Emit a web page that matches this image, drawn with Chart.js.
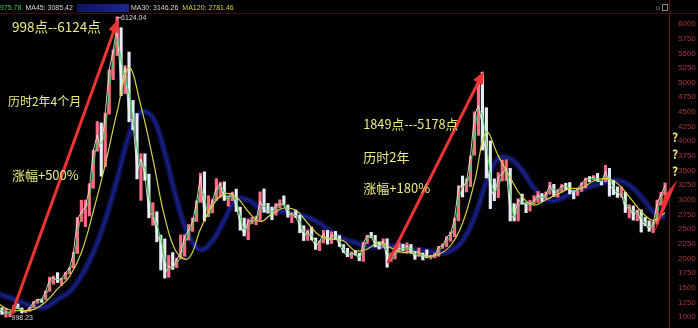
<!DOCTYPE html>
<html><head><meta charset="utf-8">
<script src="https://cdn.jsdelivr.net/npm/chart.js@4/dist/chart.umd.min.js"></script>
<style>html,body{margin:0;padding:0;background:#000;overflow:hidden}#wrap{width:698px;height:328px}</style>
</head><body><div id="wrap"><canvas id="c" width="698" height="328"></canvas></div>
<script>
// ---- data (monthly, Apr 2005 .. Apr 2019) ----
const firstYear = 2005, firstMonth = 4;
const high = [1282,1159,1147,1085,1201,1223,1156,1105,1167,
1263,1305,1307,1445,1682,1700,1757,1660,1760,1842,2108,2698,
2994,2996,3275,3848,4335,4312,4479,5218,5559,6124,5937,5290,
5522,4696,4472,3786,3786,3439,2952,2796,2397,2333,2051,2100,
2005,2402,2403,2579,2688,2982,3454,3478,3068,3003,3361,3297,
3306,3069,3132,3181,2874,2688,2673,2701,2721,3136,3186,2939,
2877,2936,3000,3067,2912,2780,2826,2736,2557,2485,2536,2348,
2301,2478,2478,2453,2461,2389,2235,2172,2112,2134,2089,2276,
2398,2444,2393,2282,2334,2335,2092,2198,2270,2243,2266,2238,
2111,2177,2092,2146,2054,2087,2206,2248,2369,2450,2684,3239,
3406,3360,3748,4500,4986,5178,4572,4006,3357,3464,3678,3684,
3538,2934,3019,3098,2953,2993,3071,3141,3107,3133,3301,3264,
3174,3260,3283,3295,3159,3198,3293,3371,3397,3414,3451,3320,
3587,3538,3334,3220,3219,3129,2915,2896,2827,2830,2703,2642,
2631,2997,3129,3288];
const low = [1135,1043,998,1004,1080,1140,1067,1074,1096,
1161,1235,1250,1298,1437,1560,1589,1541,1645,1735,1836,2082,
2630,2541,2723,3197,3830,3404,3563,4462,5049,5462,4778,4812,
4330,4195,3357,2990,3333,2693,2566,2284,1802,1664,1678,1814,
1844,1990,2037,2312,2461,2630,2955,2639,2712,2779,2993,3039,
2990,2890,2985,2802,2481,2383,2319,2590,2573,2646,2787,2774,
2661,2737,2861,2908,2702,2610,2699,2437,2304,2307,2313,2152,
2132,2263,2242,2252,2325,2203,2100,2030,1999,2055,1959,1949,
2253,2353,2196,2161,2180,1849,1951,1988,2101,2125,2086,2085,
1984,2034,1974,2011,1991,2010,2035,2170,2198,2292,2369,2640,
3049,3134,3225,3760,4100,3848,3373,2850,2984,3039,3322,3327,
2638,2638,2639,2925,2781,2807,2930,2953,2969,3008,3096,3056,
3044,3128,3172,3101,3016,3073,3142,3203,3310,3339,3315,3254,
3306,3062,3087,3041,3043,2782,2691,2653,2644,2449,2556,2462,
2440,2585,2909,3078];
const close = [1159,1060,1080,1083,1162,1155,1092,1099,1161,
1258,1299,1298,1440,1641,1672,1612,1658,1752,1837,2099,2675,
2786,2881,3183,3841,4109,3820,4471,5218,5552,5954,4871,5261,
4383,4348,3472,3693,3433,2736,2775,2397,2293,1728,1871,1820,
1990,2082,2373,2477,2632,2959,3412,2667,2779,2996,3195,3277,
2989,3051,3109,2870,2592,2398,2637,2638,2655,2979,2820,2808,
2790,2905,2928,2911,2743,2762,2701,2567,2359,2468,2333,2199,
2292,2428,2262,2396,2372,2225,2103,2047,2086,2069,1980,2269,
2385,2365,2236,2177,2300,1979,1993,2098,2174,2141,2220,2116,
2033,2056,2033,2026,2039,2048,2201,2217,2364,2420,2683,3235,
3210,3310,3748,4441,4612,4277,3664,3206,3053,3383,3445,3539,
2738,2688,3004,2938,2917,2930,2979,3085,3005,3100,3250,3104,
3159,3242,3223,3155,3117,3192,3273,3361,3349,3393,3317,3307,
3481,3259,3169,3082,3095,2847,2876,2725,2821,2603,2588,2494,
2585,2941,3091,3246];
// short moving average (green), monthly reading
const ma30 = [1200,1110,1070,1080,1120,1160,1120,1095,1130,
1210,1280,1300,1370,1540,1660,1640,1630,1700,1790,1960,2380,
2730,2830,3030,3500,3980,3960,4150,4850,5380,5750,5400,5060,
4820,4360,3900,3580,3560,3080,2750,2580,2340,2010,1800,1850,
1900,2040,2230,2430,2550,2800,3180,3040,2720,2890,3100,3240,
3130,3020,3080,2990,2730,2500,2520,2640,2650,2820,2900,2810,
2800,2850,2920,2920,2830,2750,2730,2630,2460,2410,2400,2270,
2250,2360,2340,2330,2380,2300,2160,2080,2070,2080,2020,2120,
2330,2375,2300,2210,2240,2140,1990,2040,2140,2160,2180,2170,
2070,2045,2045,2030,2032,2044,2120,2210,2290,2390,2550,2960,
3220,3260,3530,4100,4530,4450,3970,3430,3130,3220,3410,3490,
3140,2710,2850,2970,2930,2925,2955,3030,3045,3050,3175,3180,
3130,3200,3230,3190,3135,3155,3230,3315,3355,3370,3355,3310,
3390,3370,3210,3125,3090,2970,2860,2800,2770,2710,2595,2540,
2540,2760,3020,3170];
// long moving averages, read every 3 months
const maStep = 3;
const ma120 = [1230,1120,1110,1130,1260,1480,1690,2100,2800,3600,4500,5250,4600,3700,2700,2100,2000,2500,2900,3100,3050,2800,2630,2760,2860,2820,2600,2390,2330,2300,2130,2160,2280,2180,2100,2120,2040,2070,2220,2600,3300,4150,3750,3380,3050,2910,3000,3100,3190,3200,3320,3360,3280,3050,2800,2650,2780];
const ma250 = [1400,1330,1250,1180,1170,1300,1430,1700,2100,2650,3350,4100,4500,4400,3800,3000,2400,2150,2300,2650,3000,3000,2850,2800,2800,2760,2700,2600,2450,2330,2270,2200,2200,2220,2200,2150,2130,2090,2130,2300,2700,3300,3700,3700,3500,3200,3000,3000,3100,3180,3240,3300,3330,3250,3050,2800,2690];
const yTicks = [1000,1250,1500,1750,2000,2250,2500,2750,3000,3250,3500,3750,4000,4250,4500,4750,5000,5250,5500,5750,6000];
const headerItems = [
  {t:'975.78', c:'#33c84a'}, {t:'MA45: 3085.42', c:'#d8d8d8'},
  {t:'MA30: 3146.26', c:'#d8d8d8'}, {t:'MA120: 2781.46', c:'#d8cf48'}];

// ---- build ----
const months = close.map((_, i) => {
  const m = firstMonth - 1 + i; return (firstYear + Math.floor(m / 12)) + '-' + String(m % 12 + 1).padStart(2, '0');
});
const barData = close.map((c, i) => ({x: i + 0.5, y: [low[i], high[i]]}));
const closeData = close.map((c, i) => ({x: i + 0.5, y: c}));
const m30 = ma30.map((v, i) => ({x: i + 0.5, y: v}));
const m120 = ma120.map((v, i) => ({x: i * maStep + 0.5, y: v}));
const m250 = ma250.map((v, i) => ({x: i * maStep + 0.5, y: v}));
const barColors = close.map((c, i) => (i > 0 && c < close[i - 1]) ? '#e6ecf4' : '#ff6a86');

const CJK = '"Noto Sans CJK SC","Noto Sans",sans-serif';
const notes = [
  {t:'998点--6124点', x:4.0, y:5950, s:13.5},
  {t:'历时2年4个月', x:3.0, y:4686, s:12},
  {t:'涨幅+500%', x:4.0, y:3423, s:13},
  {t:'1849点---5178点', x:92.5, y:4294, s:12.7},
  {t:'历时2年', x:92.5, y:3730, s:13},
  {t:'涨幅+180%', x:92.5, y:3201, s:13}];

function arrow(ctx, x1, y1, x2, y2, w, head, color) {
  const a = Math.atan2(y2 - y1, x2 - x1);
  const bx = x2 - head * Math.cos(a), by = y2 - head * Math.sin(a);
  ctx.strokeStyle = color; ctx.lineWidth = w; ctx.lineCap = 'round';
  ctx.beginPath(); ctx.moveTo(x1, y1); ctx.lineTo(bx, by); ctx.stroke();
  ctx.fillStyle = color; ctx.beginPath(); ctx.moveTo(x2, y2);
  const hw = head * 0.42;
  ctx.lineTo(bx + hw * Math.sin(a), by - hw * Math.cos(a));
  ctx.lineTo(bx - hw * Math.sin(a), by + hw * Math.cos(a));
  ctx.closePath(); ctx.fill();
}

const bg = {id:'bg', beforeDraw(ch){const c=ch.ctx; c.save(); c.fillStyle='#000'; c.fillRect(0,0,ch.width,ch.height); c.restore();}};
const deco = {id:'deco', afterDraw(ch){
  const c = ch.ctx, xs = ch.scales.x, ys = ch.scales.y, ca = ch.chartArea;
  const X = v => xs.getPixelForValue(v), Y = v => ys.getPixelForValue(v);
  c.save();
  // header strip
  c.strokeStyle = '#3c0c12'; c.lineWidth = 1;
  c.beginPath(); c.moveTo(0, 13.5); c.lineTo(ch.width, 13.5); c.stroke();
  c.font = '7px "Liberation Sans",sans-serif'; c.textBaseline = 'middle';
  let hx = 0;
  headerItems.forEach((h, i) => {
    c.fillStyle = h.c; c.fillText(h.t, hx, 8); hx += c.measureText(h.t).width + 4;
    if (i === 1) { const g = c.createLinearGradient(hx, 0, hx + 52, 0); g.addColorStop(0, '#0b1460'); g.addColorStop(1, '#1a2890'); c.fillStyle = g; c.fillRect(hx, 4, 52, 8); hx += 54; }
  });
  c.fillStyle = '#888'; c.fillText('o', 656, 8); c.strokeStyle = '#888'; c.strokeRect(662.5, 4.5, 5, 6);
  // arrows
  arrow(c, X(4.05), Y(1068), X(30.75), Y(6080), 3, 13, '#ec3434');
  arrow(c, X(98.8), Y(1939), X(122.9), Y(5200), 3, 13, '#ec3434');
  c.fillStyle = '#ec3434'; c.beginPath();
  c.moveTo(X(165.8), Y(2433)); c.lineTo(X(168.3), Y(3065)); c.lineTo(X(171.6), Y(3338)); c.lineTo(X(169.5), Y(3000)); c.closePath(); c.fill();
  // notes
  c.textBaseline = 'middle'; c.fillStyle = '#ecec82';
  notes.forEach(n => { c.font = n.s + 'px ' + CJK; c.fillText(n.t, X(n.x), Y(n.y)); });
  // question marks
  c.font = 'bold 12px ' + CJK; c.fillStyle = '#e6e070';
  [4060, 3780, 3480].forEach(v => c.fillText('?', ca.right + 3, Y(v)));
  // extreme labels
  c.font = '7px "Liberation Sans",sans-serif'; c.fillStyle = '#d8d8d8';
  c.fillText('6124.04', X(31.5), Y(6124) + 1);
  c.strokeStyle = '#d8d8d8'; c.lineWidth = 1; c.beginPath(); c.moveTo(X(30.6), Y(6124)+1); c.lineTo(X(31.4), Y(6124)+1); c.stroke();
  c.fillText('998.23', X(3.9), Y(998) + 1);
  c.restore();
}};

new Chart(document.getElementById('c'), {
  type: 'bar',
  data: {labels: months, datasets: [
    {type:'line', label:'MA250', data:m250, borderColor:'rgba(18,24,105,0.85)', borderWidth:6, pointRadius:0, tension:0.4, order:6},
    {type:'line', label:'MA250c', data:m250, borderColor:'#1c2a9c', borderWidth:1.2, pointRadius:0, tension:0.4, order:5},
    {type:'bar', label:'K', data:barData, backgroundColor:barColors, barThickness:2.5, order:4},
    {type:'line', label:'Close', data:closeData, borderColor:'rgba(240,240,240,0.85)', borderWidth:1, pointRadius:0, tension:0, order:3},
    {type:'line', label:'MA30', data:m30, borderColor:'#3cd052', borderWidth:1, pointRadius:0, tension:0.3, order:2},
    {type:'line', label:'MA120', data:m120, borderColor:'#d6d24a', borderWidth:1.2, pointRadius:0, tension:0.4, order:1}
  ]},
  options: {
    responsive:false, animation:false, devicePixelRatio:1,
    layout:{padding:0},
    plugins:{legend:{display:false}, tooltip:{enabled:false}},
    scales:{
      x:{type:'linear', display:false, offset:false, min:1.0, max:169.5},
      y:{position:'right', min:812.3, max:6409.6,
        afterBuildTicks: s => { s.ticks = yTicks.map(v => ({value:v})); },
        afterFit: s => { s.width = 29; s.paddingTop = 0; s.paddingBottom = 0; },
        grid:{display:false, drawTicks:false},
        border:{display:true, color:'#5a161c', width:1},
        ticks:{color:'#a83440', padding:9, font:{size:8, family:'"Liberation Sans",sans-serif'}, autoSkip:false, callback: v => String(v)}
      }
    }
  },
  plugins:[bg, deco]
});
</script></body></html>
